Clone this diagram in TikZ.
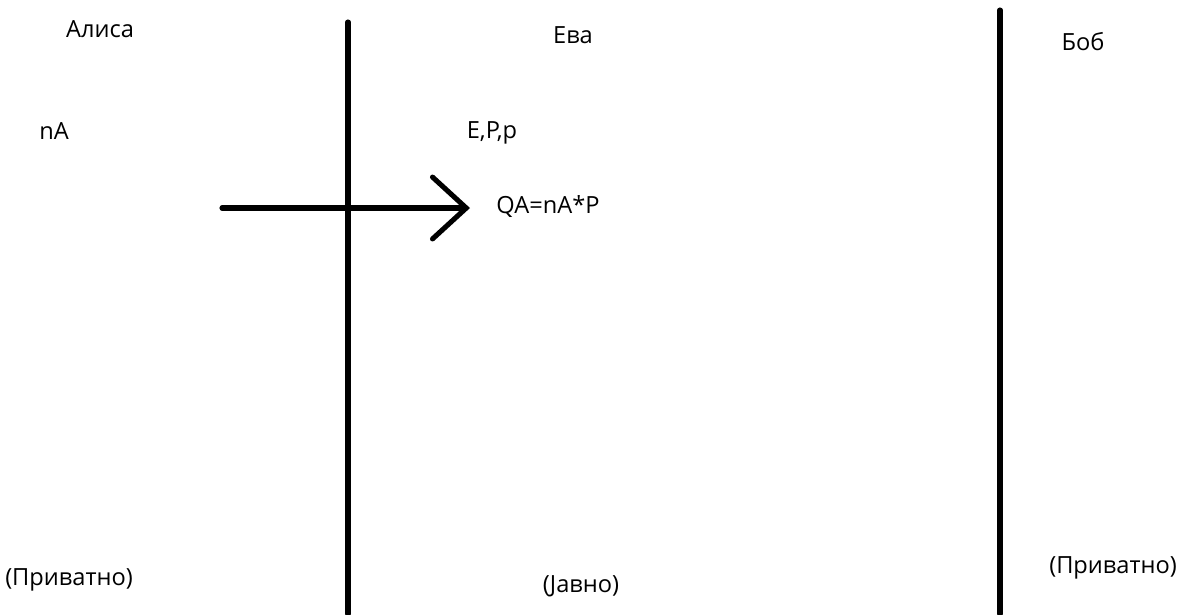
\documentclass[tikz,border=0pt]{standalone}
\usepackage{fontspec}
\setmainfont{Open Sans}
\usetikzlibrary{arrows.meta}

\begin{document}
\begin{tikzpicture}[x=0.025cm,y=-0.025cm,
  lbl/.style={inner sep=0pt,font=\fontsize{16.8}{19}\selectfont},
  wall/.style={line width=3.6pt}]
\useasboundingbox (0,0) rectangle (1178,614);
% participants
\node[lbl] (alice) at (100,29) {Алиса};
\node[lbl] (eve) at (573,35) {Ева};
\node[lbl] (bob) at (1083,42) {Боб};
% values
\node[lbl] (na) at (54,131) {nA};
\node[lbl] (curve) at (492,133) {E,P,p};
\node[lbl] (qa) at (548,207) {QA=nA*P};
% bottom notes
\node[lbl] (privA) at (69,580) {(Приватно)};
\node[lbl] (pub) at (581,586) {(Јавно)};
\node[lbl] (privB) at (1113,568) {(Приватно)};
% walls
\coordinate (w1top) at (348,22);
\coordinate (w1bot) at (348,614);
\coordinate (w2top) at (1000,10);
\coordinate (w2bot) at (1000,614);
\draw[wall,line cap=round] (w1top) -- (w1bot);
\draw[wall,line cap=round] (w2top) -- (w2bot);
% message
\coordinate (send) at (222,208);
\coordinate (recv) at (470,208);
\draw[wall,line cap=round,-{Straight Barb[length=24pt,width=44pt,line cap=round]}] (send) -- (recv);
\end{tikzpicture}
\end{document}
